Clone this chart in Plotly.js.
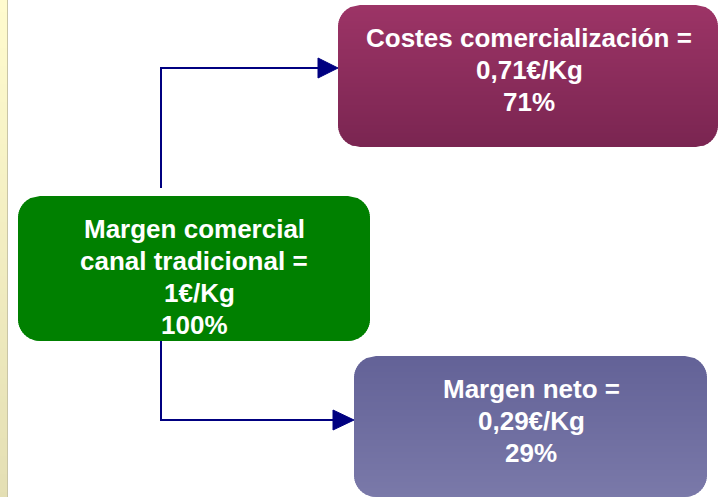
<!DOCTYPE html>
<html>
<head>
<meta charset="utf-8">
<script src="https://cdn.plot.ly/plotly-3.0.1.min.js"></script>
<style>
html,body{margin:0;padding:0;background:#fff;}
#chart{width:719px;height:497px;}
</style>
</head>
<body>
<div id="chart"></div>
<script>
// ---- data ----
const nodeTitleLines = [
  ['Margen comercial', 'canal tradicional ='],
  ['Costes comercialización ='],
  ['Margen neto =']
];
const nodeValues = [1, 0.71, 0.29];
const nodeUnit = '€/Kg';
const nodeShares = [100, 71, 29];

// ---- layout geometry (pixels) ----
const boxes = [
  {x0: 18, x1: 370, y0: 196, y1: 341, r: 22, c0: [0,128,0], c1: [0,128,0], cx: 194, base: 237, valShift: 5},
  {x0: 338, x1: 718, y0: 5, y1: 147, r: 22, c0: [156,52,102], c1: [122,37,81], cx: 529, base: 46, valShift: 0},
  {x0: 354, x1: 707, y0: 356, y1: 497, r: 22, c0: [99,98,151], c1: [122,121,169], cx: 531, base: 397, valShift: 0}
];
const LS = 32, FS = 26;

function lerp(a, b, t) { return Math.round(a + (b - a) * t); }
function col(c0, c1, t) { return 'rgb(' + lerp(c0[0],c1[0],t) + ',' + lerp(c0[1],c1[1],t) + ',' + lerp(c0[2],c1[2],t) + ')'; }

function bands(x0, x1, y0, y1, r, c0, c1, step) {
  const out = [];
  function inset(y) {
    if (r <= 0) return 0;
    if (y < y0 + r) { const d = y0 + r - y; return r - Math.sqrt(Math.max(0, r*r - d*d)); }
    if (y > y1 - r) { const d = y - (y1 - r); return r - Math.sqrt(Math.max(0, r*r - d*d)); }
    return 0;
  }
  for (let y = y0; y < y1; y += step) {
    const ya = y, yb = Math.min(y + step, y1);
    const ybo = Math.min(yb + 0.8, y1);
    const ia = inset(ya), ib = inset(yb), ibo = inset(ybo);
    const t = (y - y0) / (y1 - y0);
    let path = 'M' + (x0 + ia) + ',' + ya + ' L' + (x1 - ia) + ',' + ya +
               ' L' + (x1 - ib) + ',' + yb + ' L' + (x1 - ibo) + ',' + ybo +
               ' L' + (x0 + ibo) + ',' + ybo + ' L' + (x0 + ib) + ',' + yb + ' Z';
    out.push({type: 'path', xref: 'x', yref: 'y', path: path, fillcolor: col(c0, c1, t), line: {width: 0}, layer: 'above'});
  }
  return out;
}

const shapes = [];
// left beige strip
shapes.push(...bands(0, 7, 0, 497, 0, [255,251,206], [228,223,180], 6));
shapes.push({type: 'line', xref: 'x', yref: 'y', x0: 7.5, x1: 7.5, y0: 0, y1: 497, line: {color: '#c9c5a6', width: 1}, layer: 'above'});

boxes.forEach(b => shapes.push(...bands(b.x0, b.x1, b.y0, b.y1, b.r, b.c0, b.c1, 2)));

// connectors
const navy = '#000080';
shapes.push({type: 'path', xref: 'x', yref: 'y', path: 'M161,188 L161,68 L320,68', line: {color: navy, width: 2}, layer: 'above'});
shapes.push({type: 'path', xref: 'x', yref: 'y', path: 'M318,58 L338,68 L318,78 Z', fillcolor: navy, line: {color: navy, width: 1}, layer: 'above'});
shapes.push({type: 'path', xref: 'x', yref: 'y', path: 'M161,341 L161,420 L335,420', line: {color: navy, width: 2}, layer: 'above'});
shapes.push({type: 'path', xref: 'x', yref: 'y', path: 'M333,410 L354,420 L333,430 Z', fillcolor: navy, line: {color: navy, width: 1}, layer: 'above'});

function fmtVal(v) { return String(v).replace('.', ',') + nodeUnit; }

const annotations = [];
boxes.forEach((b, i) => {
  const lines = nodeTitleLines[i].concat([fmtVal(nodeValues[i]), nodeShares[i] + '%']);
  lines.forEach((txt, k) => {
    const baseline = b.base + k * LS;
    annotations.push({
      xref: 'x', yref: 'y', x: b.cx, y: baseline - 0.29 * FS,
      text: '<b>' + txt + '</b>', showarrow: false,
      xanchor: 'center', yanchor: 'middle',
      xshift: (k === nodeTitleLines[i].length ? b.valShift : 0),
      font: {family: 'Liberation Sans, Arial, sans-serif', size: FS, color: '#ffffff'}
    });
  });
});

const layout = {
  width: 719, height: 497,
  margin: {l: 0, r: 0, t: 0, b: 0, pad: 0},
  paper_bgcolor: '#ffffff', plot_bgcolor: '#ffffff',
  xaxis: {range: [0, 719], visible: false, fixedrange: true},
  yaxis: {range: [497, 0], visible: false, fixedrange: true},
  shapes: shapes,
  annotations: annotations,
  showlegend: false
};

Plotly.newPlot('chart', [], layout, {displayModeBar: false, staticPlot: true});
</script>
</body>
</html>
